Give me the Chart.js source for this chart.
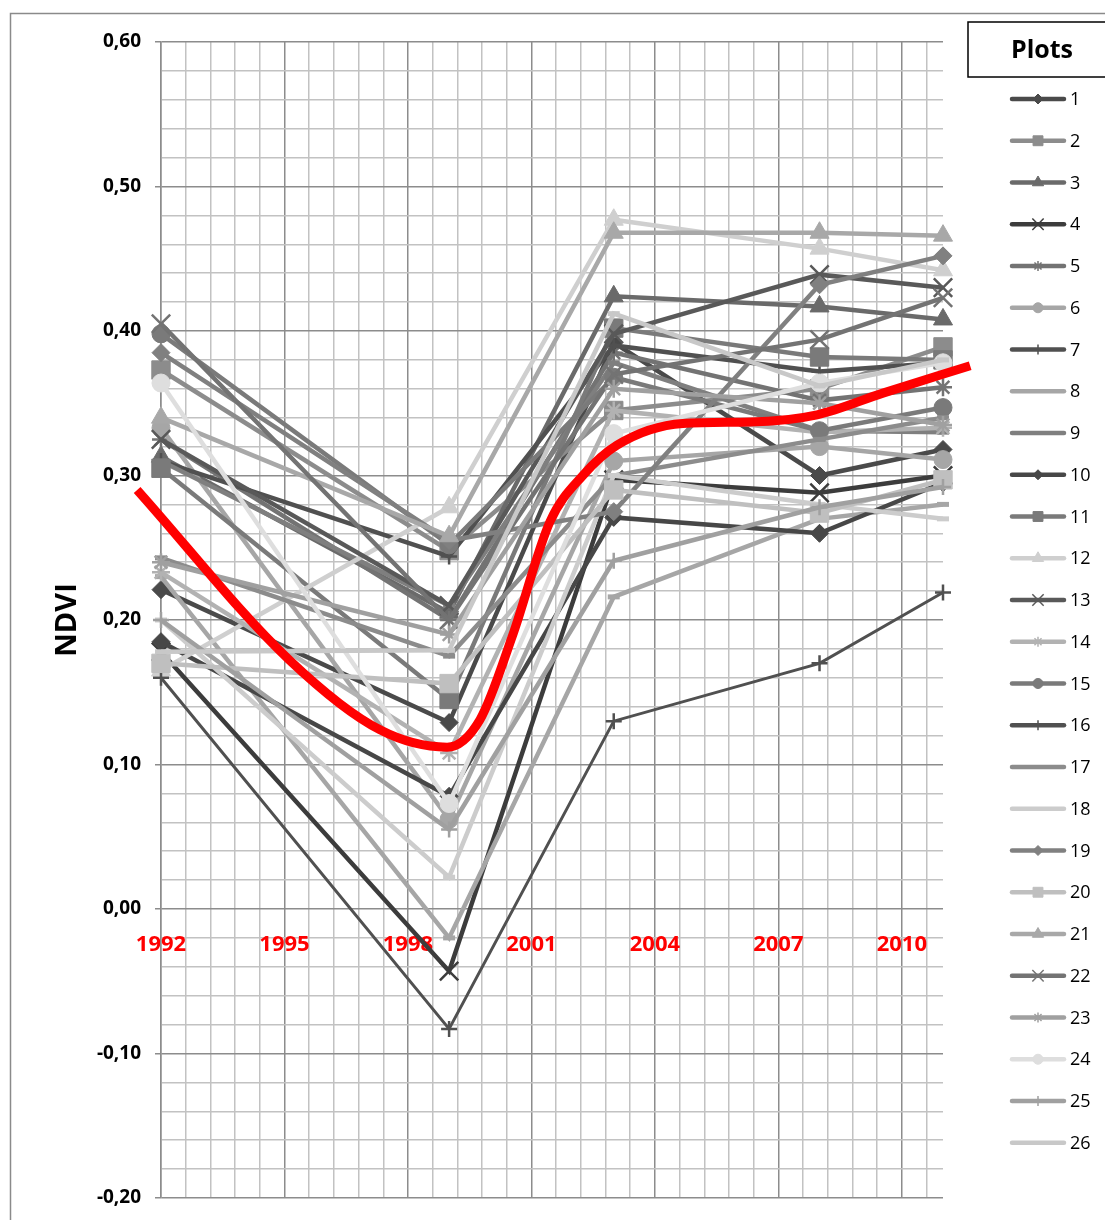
<!DOCTYPE html>
<html>
<head>
<meta charset="utf-8">
<script src="https://cdn.jsdelivr.net/npm/chart.js@4.4.1/dist/chart.umd.min.js"></script>
<style>
  html, body { margin: 0; padding: 0; background: #ffffff; }
  #wrap { position: relative; width: 1105px; height: 1220px; }
</style>
</head>
<body>
<div id="wrap"><canvas id="c"></canvas></div>
<script>
// ---- data ----
const years = [1992, 1999, 2003, 2008, 2011];
const xLabelYears = [1992, 1995, 1998, 2001, 2004, 2007, 2010];
const plotNames = ['1','2','3','4','5','6','7','8','9','10','11','12','13','14','15','16','17','18','19','20','21','22','23','24','25','26'];

const plot1  = [0.221, 0.129, 0.392, 0.300, 0.318];
const plot2  = [0.373, 0.248, 0.345, 0.360, 0.389];
const plot3  = [0.313, 0.205, 0.424, 0.417, 0.408];
const plot4  = [0.178, -0.043, 0.297, 0.288, 0.300];
const plot5  = [0.325, 0.200, 0.385, 0.352, 0.361];
const plot6  = [0.333, 0.062, 0.310, 0.320, 0.311];
const plot7  = [0.310, 0.244, 0.390, 0.372, 0.378];
const plot8  = [0.230, -0.020, 0.216, 0.270, 0.280];
const plot9  = [0.310, 0.210, 0.378, 0.331, 0.330];
const plot10 = [0.185, 0.078, 0.271, 0.260, 0.295];
const plot11 = [0.305, 0.145, 0.402, 0.382, 0.380];
const plot12 = [0.165, 0.278, 0.477, 0.457, 0.442];
const plot13 = [0.325, 0.210, 0.398, 0.439, 0.430];
const plot14 = [0.233, 0.108, 0.345, 0.330, 0.333];
const plot15 = [0.398, 0.252, 0.368, 0.331, 0.347];
const plot16 = [0.160, -0.083, 0.130, 0.170, 0.219];
const plot17 = [0.243, 0.175, 0.300, 0.325, 0.340];
const plot18 = [0.200, 0.022, 0.300, 0.280, 0.270];
const plot19 = [0.385, 0.255, 0.275, 0.432, 0.452];
const plot20 = [0.170, 0.156, 0.290, 0.274, 0.297];
const plot21 = [0.340, 0.258, 0.468, 0.468, 0.466];
const plot22 = [0.405, 0.200, 0.370, 0.394, 0.423];
const plot23 = [0.240, 0.190, 0.360, 0.350, 0.335];
const plot24 = [0.364, 0.073, 0.329, 0.364, 0.378];
const plot25 = [0.200, 0.055, 0.241, 0.278, 0.292];
const plot26 = [0.178, 0.179, 0.412, 0.362, 0.380];

const plotValues = [plot1, plot2, plot3, plot4, plot5, plot6, plot7, plot8, plot9, plot10,
  plot11, plot12, plot13, plot14, plot15, plot16, plot17, plot18, plot19, plot20,
  plot21, plot22, plot23, plot24, plot25, plot26];

// red trend curve
const trendYears = [1991.42, 1995.13, 1997.32, 1998.95, 1999.75, 2000.55, 2001.45, 2002.25, 2003.08, 2004.68, 2006.31, 2007.94, 2009.54, 2011.66];
const trendNdvi  = [0.290, 0.172, 0.124, 0.112, 0.131, 0.190, 0.268, 0.300, 0.321, 0.336, 0.337, 0.342, 0.357, 0.376];

// ---- styles ----
const plotColors = ['#4a4a4a','#8c8c8c','#6a6a6a','#3c3c3c','#737373','#a6a6a6','#505050','#a6a6a6','#7f7f7f','#474747',
  '#7a7a7a','#cfcfcf','#595959','#b2b2b2','#7a7a7a','#505050','#8c8c8c','#cccccc','#808080','#bfbfbf',
  '#a8a8a8','#737373','#a0a0a0','#dedede','#a0a0a0','#c8c8c8'];
const markerCycle = ['rectRot','rect','triangle','crossRot','star','circle','cross','line','line'];
const markerRadius = { rectRot: 9, rect: 13, triangle: 11, crossRot: 13, star: 9, circle: 9, cross: 8, line: 6 };
const markerBorder = { rectRot: 1, rect: 1, triangle: 1, crossRot: 2.5, star: 2.5, circle: 1, cross: 2.5, line: 5 };

const FONT = '"Open Sans", Lato, "Noto Sans", sans-serif';

const datasets = [];
datasets.push({
  label: 'trend',
  data: trendYears.map((x, i) => ({ x: x, y: trendNdvi[i] })),
  borderColor: '#ff0000',
  borderWidth: 9,
  pointRadius: 0,
  cubicInterpolationMode: 'monotone',
  clip: false,
  order: -100
});
plotValues.forEach((vals, i) => {
  const style = markerCycle[i % markerCycle.length];
  datasets.push({
    label: plotNames[i],
    data: vals.map((v, j) => ({ x: years[j], y: v })),
    borderColor: plotColors[i],
    backgroundColor: plotColors[i],
    pointBackgroundColor: plotColors[i],
    pointBorderColor: plotColors[i],
    borderWidth: i === 15 ? 3 : 4.5,
    pointStyle: style,
    pointRadius: markerRadius[style],
    pointBorderWidth: markerBorder[style],
    tension: 0,
    clip: false,
    order: -i
  });
});

function drawMarker(ctx, style, x, y, r, color, lw) {
  ctx.save();
  ctx.fillStyle = color; ctx.strokeStyle = color; ctx.lineWidth = lw;
  ctx.beginPath();
  const d = r * Math.SQRT1_2;
  switch (style) {
    case 'rectRot':
      ctx.moveTo(x, y - r); ctx.lineTo(x + r, y); ctx.lineTo(x, y + r); ctx.lineTo(x - r, y); ctx.closePath();
      ctx.fill(); ctx.stroke(); break;
    case 'rect':
      ctx.rect(x - d, y - d, 2 * d, 2 * d); ctx.fill(); ctx.stroke(); break;
    case 'triangle':
      ctx.moveTo(x, y - r); ctx.lineTo(x + r * 0.866, y + r * 0.5); ctx.lineTo(x - r * 0.866, y + r * 0.5); ctx.closePath();
      ctx.fill(); ctx.stroke(); break;
    case 'crossRot':
      ctx.moveTo(x - d, y - d); ctx.lineTo(x + d, y + d); ctx.moveTo(x - d, y + d); ctx.lineTo(x + d, y - d); ctx.stroke(); break;
    case 'star':
      ctx.moveTo(x - d, y - d); ctx.lineTo(x + d, y + d); ctx.moveTo(x - d, y + d); ctx.lineTo(x + d, y - d);
      ctx.moveTo(x, y - r); ctx.lineTo(x, y + r); ctx.moveTo(x - r, y); ctx.lineTo(x + r, y); ctx.stroke(); break;
    case 'circle':
      ctx.arc(x, y, r, 0, Math.PI * 2); ctx.fill(); ctx.stroke(); break;
    case 'cross':
      ctx.moveTo(x, y - r); ctx.lineTo(x, y + r); ctx.moveTo(x - r, y); ctx.lineTo(x + r, y); ctx.stroke(); break;
    default: break;
  }
  ctx.restore();
}

const framePlugin = {
  id: 'frame',
  beforeDraw(chart) {
    const ctx = chart.ctx;
    ctx.save();
    ctx.fillStyle = '#ffffff';
    ctx.fillRect(0, 0, chart.width, chart.height);
    ctx.strokeStyle = '#8a8a8a';
    ctx.lineWidth = 1.5;
    ctx.beginPath();
    ctx.moveTo(10.5, chart.height); ctx.lineTo(10.5, 13.5); ctx.lineTo(chart.width, 13.5);
    ctx.stroke();
    ctx.restore();
  }
};

const legendPlugin = {
  id: 'plotsLegend',
  afterDraw(chart) {
    const ctx = chart.ctx;
    ctx.save();
    ctx.strokeStyle = '#000000';
    ctx.lineWidth = 1.5;
    ctx.strokeRect(968, 22, 160, 55);
    ctx.fillStyle = '#000000';
    ctx.font = 'bold 25px ' + FONT;
    ctx.textAlign = 'center';
    ctx.textBaseline = 'middle';
    ctx.fillText('Plots', 1042, 51);
    ctx.font = '18px ' + FONT;
    ctx.textAlign = 'left';
    chart.data.datasets.forEach((ds, k) => {
      if (k === 0) return;
      const i = k - 1;
      const y = 99 + i * 41.75;
      ctx.save();
      ctx.strokeStyle = ds.borderColor;
      ctx.lineWidth = 4.5;
      ctx.lineCap = 'round';
      ctx.beginPath(); ctx.moveTo(1012, y); ctx.lineTo(1064, y); ctx.stroke();
      ctx.restore();
      const st = ds.pointStyle;
      if (st !== 'line') {
        const r = st === 'rect' ? 7 : (st === 'crossRot' ? 8 : (st === 'triangle' ? 6.5 : 5));
        drawMarker(ctx, st, 1038, y, r, ds.borderColor, (st === 'crossRot' || st === 'star' || st === 'cross') ? 1.5 : 1);
      }
      ctx.fillStyle = '#000000';
      ctx.fillText(ds.label, 1070, y + 1);
    });
    ctx.restore();
  }
};

function isMajorY(v) { return Math.abs(v * 10 - Math.round(v * 10)) < 1e-6; }
function isMajorX(v) { const q = (v - 1992) / 3; return Math.abs(q - Math.round(q)) < 1e-6; }

new Chart(document.getElementById('c'), {
  type: 'line',
  data: { datasets: datasets },
  plugins: [framePlugin, legendPlugin],
  options: {
    responsive: true,
    maintainAspectRatio: false,
    animation: false,
    layout: { autoPadding: false, padding: { top: 42, bottom: 22, left: 0, right: 162 } },
    plugins: { legend: { display: false }, tooltip: { enabled: false } },
    scales: {
      x: {
        type: 'linear',
        min: 1992,
        max: 2011,
        position: { y: 0 },
        afterBuildTicks(scale) {
          const t = [];
          for (let i = 0; i <= 31; i++) t.push({ value: 1992 + i * 0.6 });
          scale.ticks = t;
        },
        afterFit(scale) { scale.height = 0; },
        border: { display: false },
        grid: {
          drawTicks: false,
          lineWidth: 1.5,
          color: (c) => (c.tick && isMajorX(c.tick.value)) ? '#8c8c8c' : '#c2c2c2'
        },
        ticks: {
          autoSkip: false,
          maxRotation: 0,
          minRotation: 0,
          padding: 23,
          color: '#ff0000',
          font: { family: FONT, size: 22, weight: 'bold' },
          callback(value) {
            const yr = Math.round(value);
            return (Math.abs(value - yr) < 1e-6 && xLabelYears.includes(yr)) ? String(yr) : '';
          }
        }
      },
      y: {
        type: 'linear',
        min: -0.2,
        max: 0.6,
        afterFit(scale) { scale.width = 161; },
        border: { display: true, color: '#8c8c8c', width: 1.5 },
        grid: {
          lineWidth: 1.5,
          tickLength: 20,
          tickBorderDash: [0, 14, 6, 100],
          color: (c) => (c.tick && isMajorY(c.tick.value)) ? '#8c8c8c' : '#c2c2c2',
          tickColor: (c) => (c.tick && isMajorY(c.tick.value)) ? '#8c8c8c' : 'rgba(0,0,0,0)'
        },
        ticks: {
          stepSize: 0.02,
          autoSkip: false,
          padding: 0,
          color: '#000000',
          font: { family: FONT, size: 19, weight: 'bold' },
          callback(value) {
            if (!isMajorY(value)) return '';
            const v = Math.abs(value) < 1e-9 ? 0 : value;
            return v.toFixed(2).replace('.', ',');
          }
        },
        title: {
          display: true,
          text: 'NDVI',
          color: '#000000',
          font: { family: FONT, size: 29, weight: 'bold' },
          padding: { top: 50, bottom: 0 }
        }
      }
    }
  }
});
</script>
</body>
</html>
